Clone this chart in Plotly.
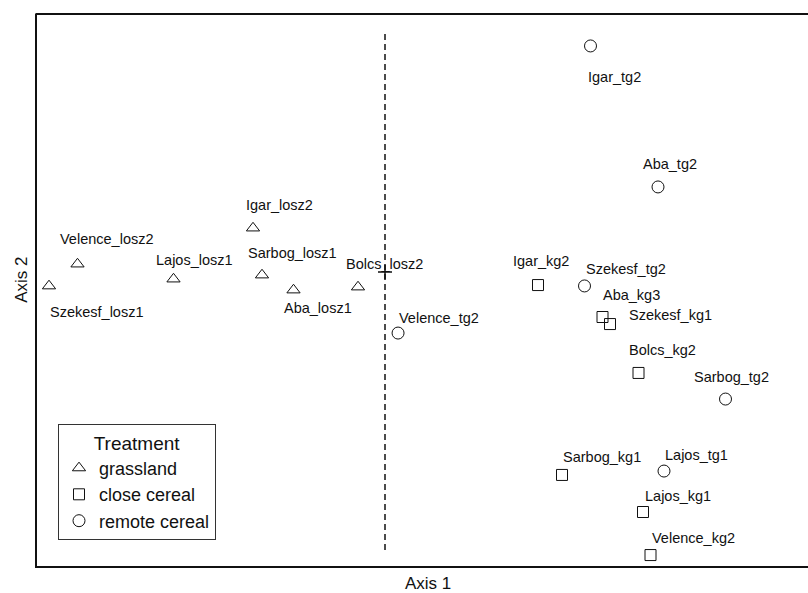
import plotly.graph_objects as go

# ---- data (ordination scores) ----
grass_names = ["Szekesf_losz1", "Velence_losz2", "Lajos_losz1", "Igar_losz2",
               "Sarbog_losz1", "Aba_losz1", "Bolcs_losz2"]
grass_x = [-2.24, -2.05, -1.41, -0.88, -0.82, -0.61, -0.18]
grass_y = [-0.093, 0.053, -0.047, 0.293, -0.020, -0.120, -0.100]

close_names = ["Igar_kg2", "Aba_kg3", "Szekesf_kg1", "Bolcs_kg2",
               "Sarbog_kg1", "Lajos_kg1", "Velence_kg2"]
close_x = [1.02, 1.45, 1.50, 1.69, 1.18, 1.72, 1.77]
close_y = [-0.087, -0.300, -0.347, -0.673, -1.353, -1.600, -1.887]

remote_names = ["Igar_tg2", "Aba_tg2", "Szekesf_tg2", "Velence_tg2",
                "Sarbog_tg2", "Lajos_tg1"]
remote_x = [1.37, 1.82, 1.33, 0.087, 2.27, 1.86]
remote_y = [1.507, 0.567, -0.093, -0.407, -0.847, -1.327]

origin_x = [0.0]
origin_y = [0.0]

# ---- label placement (pixel offsets: dx right, dy down) ----
grass_off = [(0, 26), (-19, -25), (-19, -19), (-8, -23), (-15, -22), (-11, 18), (-13, -23)]
close_off = [(-26, -24), (-1, -22), (18, -9), (-11, -23), (0, -18), (1, -16), (0, -17)]
remote_off = [(-4, 31), (-16, -23), (0, -17), (0, -15), (-33, -22), (0, -16)]

FONT = "Arial, Liberation Sans, sans-serif"
INK = "#111111"

fig = go.Figure()

fig.add_trace(go.Scatter(
    x=grass_x, y=grass_y, mode="markers", name="grassland",
    marker=dict(symbol="triangle-up-open", size=11.5, color=INK, line=dict(width=1, color=INK))))
fig.add_trace(go.Scatter(
    x=close_x, y=close_y, mode="markers", name="close cereal",
    marker=dict(symbol="square-open", size=11, color=INK, line=dict(width=1, color=INK))))
fig.add_trace(go.Scatter(
    x=remote_x, y=remote_y, mode="markers", name="remote cereal",
    marker=dict(symbol="circle-open", size=12, color=INK, line=dict(width=1, color=INK))))
fig.add_trace(go.Scatter(
    x=origin_x, y=origin_y, mode="markers", showlegend=False, hoverinfo="skip",
    marker=dict(symbol="cross-thin-open", size=10, color=INK, line=dict(width=1.5, color=INK))))

annotations = []
for names, xs, ys, offs in [(grass_names, grass_x, grass_y, grass_off),
                            (close_names, close_x, close_y, close_off),
                            (remote_names, remote_x, remote_y, remote_off)]:
    for n, x, y, (dx, dy) in zip(names, xs, ys, offs):
        annotations.append(dict(
            x=x, y=y, xref="x", yref="y", text=n, showarrow=False,
            xanchor="left", yanchor="middle", xshift=dx - 1, yshift=-dy,
            font=dict(family=FONT, size=14.5, color=INK)))

# axis titles
annotations.append(dict(x=0.507, y=-0.031, xref="paper", yref="paper", text="Axis 1",
                        showarrow=False, xanchor="center", yanchor="middle",
                        font=dict(family=FONT, size=17, color=INK)))
annotations.append(dict(x=-0.021, y=0.518, xref="paper", yref="paper", text="Axis 2",
                        showarrow=False, xanchor="center", yanchor="middle", textangle=-90,
                        font=dict(family=FONT, size=17, color=INK)))

shapes = [
    # dashed vertical line through origin
    dict(type="line", xref="x", yref="paper", x0=0, x1=0, y0=0.029, y1=0.971,
         line=dict(color=INK, width=1.5, dash="6px,4px")),
    # top frame line
    dict(type="line", xref="paper", yref="paper", x0=-0.002, x1=1.0, y0=1, y1=1,
         line=dict(color=INK, width=2)),
]

fig.update_layout(
    width=808, height=593,
    margin=dict(l=37, r=0, t=14, b=27),
    paper_bgcolor="white", plot_bgcolor="white",
    font=dict(family=FONT, color=INK),
    xaxis=dict(range=[-2.32, 2.82], showgrid=False, zeroline=False, showticklabels=False,
               ticks="", showline=True, linewidth=2, linecolor=INK, fixedrange=True),
    yaxis=dict(range=[-1.96, 1.72], showgrid=False, zeroline=False, showticklabels=False,
               ticks="", showline=True, linewidth=2, linecolor=INK, fixedrange=True),
    legend=dict(x=(58 - 37) / 771, y=(566 - 540) / 552, xanchor="left", yanchor="bottom",
                bordercolor="#333333", borderwidth=1, bgcolor="white",
                font=dict(family=FONT, size=18, color=INK),
                title=dict(text="Treatment", side="top center",
                           font=dict(family=FONT, size=19, color=INK)),
                itemwidth=30, tracegroupgap=0),
    annotations=annotations,
    shapes=shapes,
    showlegend=True,
)

fig.write_html("out.html")
